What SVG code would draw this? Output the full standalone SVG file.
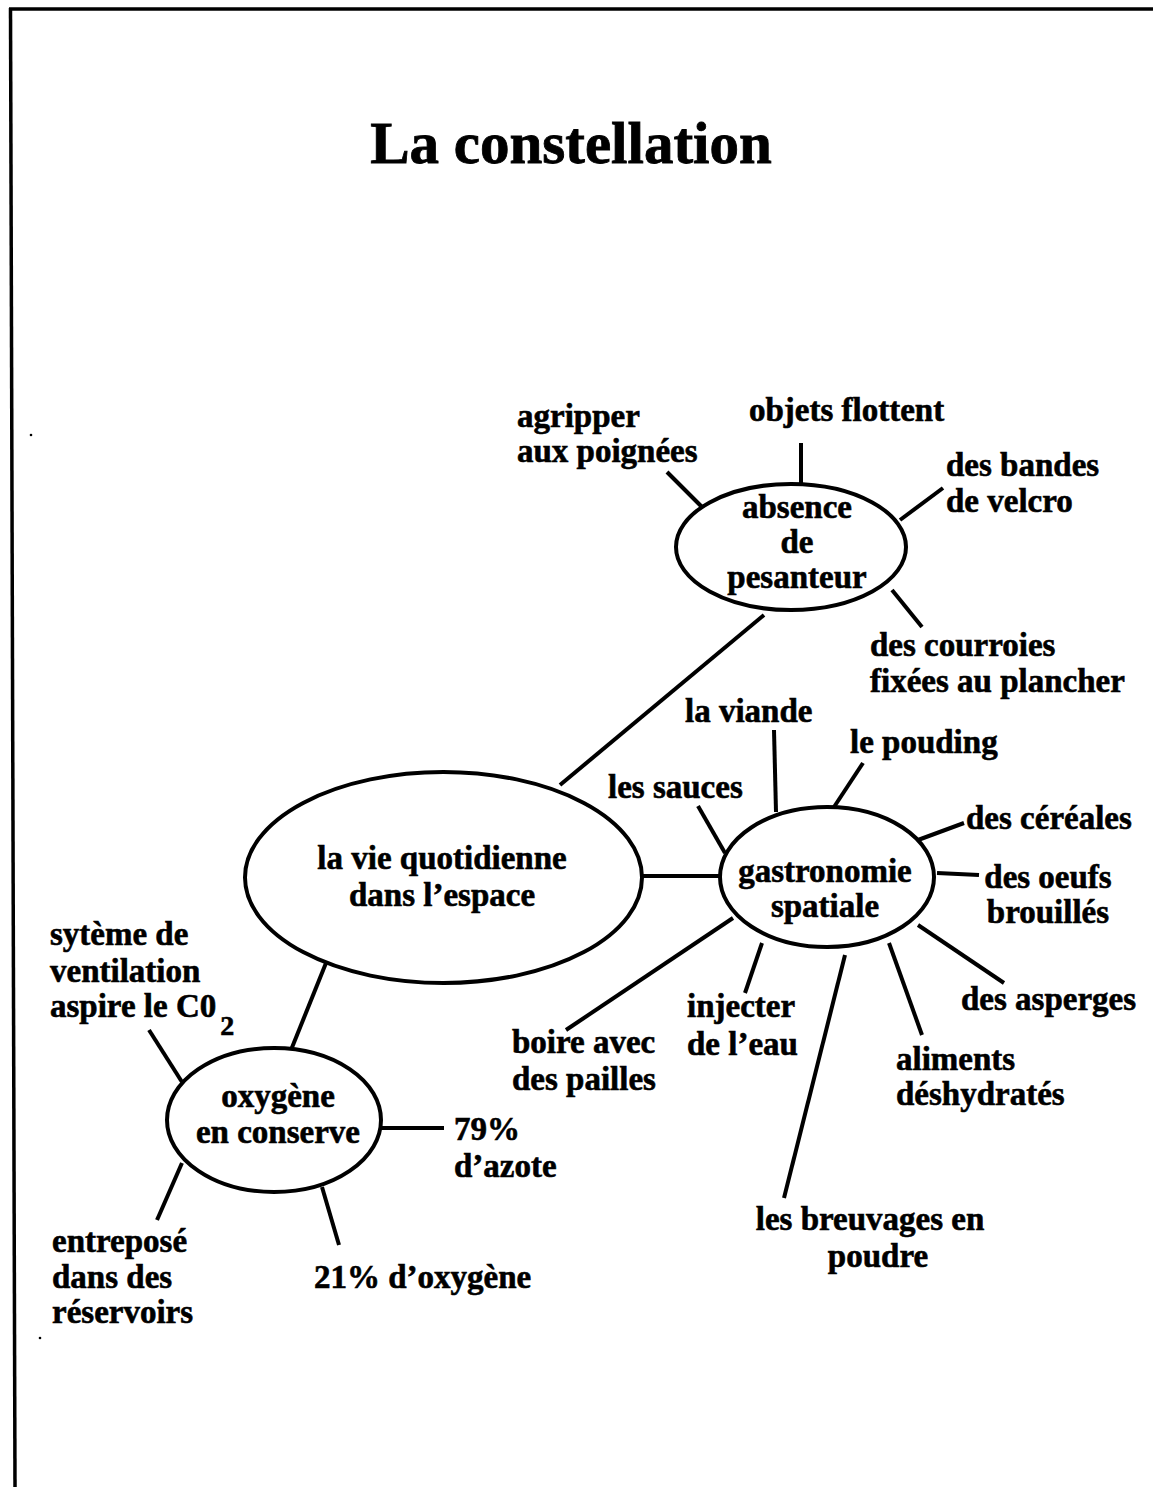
<svg xmlns="http://www.w3.org/2000/svg" width="1153" height="1487" viewBox="0 0 1153 1487">
  <style>
    .frame { stroke: #000; stroke-width: 3.5; fill: none; }
    .bubble { fill: #fff; stroke: #000; stroke-width: 4; }
    .link { stroke: #000; stroke-width: 4; fill: none; stroke-linecap: butt; }
    text { font-family: "Liberation Serif", "Times New Roman", serif; font-weight: bold; fill: #000; stroke: #000; stroke-width: 0.6; }
    .title { font-size: 59px; text-anchor: middle; stroke-width: 0.8; }
    .lbl { font-size: 33px; }
    .mid { text-anchor: middle; }
    .sub { font-size: 28px; }
  </style>

  <rect width="1153" height="1487" fill="#fff"/>

  <!-- page frame: top rule and left rule -->
  <g id="frame">
    <line class="frame" x1="9" y1="9" x2="1153" y2="9"/>
    <line class="frame" x1="10.5" y1="8" x2="15" y2="1487" stroke-width="3"/>
    <circle cx="31" cy="435" r="1.3" fill="#000"/>
    <circle cx="40" cy="1338" r="1.3" fill="#000"/>
  </g>

  <text id="title" class="title" x="571" y="163">La constellation</text>

  <!-- connectors -->
  <g id="connectors">
    <line class="link" x1="764" y1="615" x2="560" y2="785"/>
    <line class="link" x1="667" y1="472" x2="702" y2="507"/>
    <line class="link" x1="801" y1="443" x2="801" y2="484"/>
    <line class="link" x1="900" y1="520" x2="943" y2="488"/>
    <line class="link" x1="892" y1="590" x2="922" y2="627"/>
    <line class="link" x1="642" y1="876" x2="720" y2="876"/>
    <line class="link" x1="774" y1="730" x2="776" y2="812"/>
    <line class="link" x1="863" y1="763" x2="834" y2="807"/>
    <line class="link" x1="698" y1="806" x2="725" y2="853"/>
    <line class="link" x1="918" y1="840" x2="964" y2="823"/>
    <line class="link" x1="937" y1="873" x2="979" y2="875"/>
    <line class="link" x1="918" y1="925" x2="1004" y2="983"/>
    <line class="link" x1="889" y1="943" x2="922" y2="1035"/>
    <line class="link" x1="845" y1="955" x2="784" y2="1198"/>
    <line class="link" x1="762" y1="943" x2="745" y2="993"/>
    <line class="link" x1="733" y1="918" x2="566" y2="1030"/>
    <line class="link" x1="326" y1="963" x2="291" y2="1050"/>
    <line class="link" x1="149" y1="1030" x2="182" y2="1082"/>
    <line class="link" x1="381" y1="1128" x2="444" y2="1128"/>
    <line class="link" x1="182" y1="1163" x2="157" y2="1220"/>
    <line class="link" x1="322" y1="1187" x2="339" y2="1245"/>
  </g>

  <!-- central topic -->
  <g id="node-vie">
    <ellipse class="bubble" cx="443.5" cy="877.5" rx="198.5" ry="105.5"/>
    <text class="lbl mid" x="442" y="869">la vie quotidienne</text>
    <text class="lbl mid" x="442" y="906">dans l’espace</text>
  </g>

  <!-- weightlessness branch -->
  <g id="node-pesanteur">
    <ellipse class="bubble" cx="791" cy="547" rx="115" ry="63"/>
    <text class="lbl mid" x="797" y="518">absence</text>
    <text class="lbl mid" x="797" y="553">de</text>
    <text class="lbl mid" x="797" y="588">pesanteur</text>
  </g>
  <g id="leaf-agripper">
    <text class="lbl" x="517" y="427">agripper</text>
    <text class="lbl" x="517" y="462">aux poignées</text>
  </g>
  <g id="leaf-objets">
    <text class="lbl" x="749" y="421">objets flottent</text>
  </g>
  <g id="leaf-velcro">
    <text class="lbl" x="946" y="476">des bandes</text>
    <text class="lbl" x="946" y="512">de velcro</text>
  </g>
  <g id="leaf-courroies">
    <text class="lbl" x="870" y="656">des courroies</text>
    <text class="lbl" x="870" y="692">fixées au plancher</text>
  </g>

  <!-- food branch -->
  <g id="node-gastronomie">
    <ellipse class="bubble" cx="827" cy="877" rx="107" ry="70"/>
    <text class="lbl mid" x="825" y="882">gastronomie</text>
    <text class="lbl mid" x="825" y="917">spatiale</text>
  </g>
  <g id="leaf-viande"><text class="lbl" x="685" y="722">la viande</text></g>
  <g id="leaf-pouding"><text class="lbl" x="850" y="753">le pouding</text></g>
  <g id="leaf-sauces"><text class="lbl" x="608" y="798">les sauces</text></g>
  <g id="leaf-cereales"><text class="lbl" x="966" y="829">des céréales</text></g>
  <g id="leaf-oeufs">
    <text class="lbl mid" x="1048" y="888">des oeufs</text>
    <text class="lbl mid" x="1048" y="923">brouillés</text>
  </g>
  <g id="leaf-asperges"><text class="lbl" x="961" y="1010">des asperges</text></g>
  <g id="leaf-aliments">
    <text class="lbl" x="896" y="1070">aliments</text>
    <text class="lbl" x="896" y="1105">déshydratés</text>
  </g>
  <g id="leaf-breuvages">
    <text class="lbl mid" x="870" y="1230">les breuvages en</text>
    <text class="lbl mid" x="878" y="1267">poudre</text>
  </g>
  <g id="leaf-injecter">
    <text class="lbl" x="687" y="1017">injecter</text>
    <text class="lbl" x="687" y="1055">de l’eau</text>
  </g>
  <g id="leaf-boire">
    <text class="lbl" x="512" y="1053">boire avec</text>
    <text class="lbl" x="512" y="1090">des pailles</text>
  </g>

  <!-- oxygen branch -->
  <g id="node-oxygene">
    <ellipse class="bubble" cx="274" cy="1120" rx="107" ry="72"/>
    <text class="lbl mid" x="278" y="1107">oxygène</text>
    <text class="lbl mid" x="278" y="1143">en conserve</text>
  </g>
  <g id="leaf-ventilation">
    <text class="lbl" x="50" y="945">sytème de</text>
    <text class="lbl" x="50" y="982">ventilation</text>
    <text class="lbl" x="50" y="1017">aspire le C0<tspan class="sub" dx="4" dy="18">2</tspan></text>
  </g>
  <g id="leaf-azote">
    <text class="lbl" x="454" y="1140">79%</text>
    <text class="lbl" x="454" y="1177">d’azote</text>
  </g>
  <g id="leaf-reservoirs">
    <text class="lbl" x="52" y="1252">entreposé</text>
    <text class="lbl" x="52" y="1288">dans des</text>
    <text class="lbl" x="52" y="1323">réservoirs</text>
  </g>
  <g id="leaf-oxygene21">
    <text class="lbl" x="314" y="1288">21% d’oxygène</text>
  </g>
</svg>
